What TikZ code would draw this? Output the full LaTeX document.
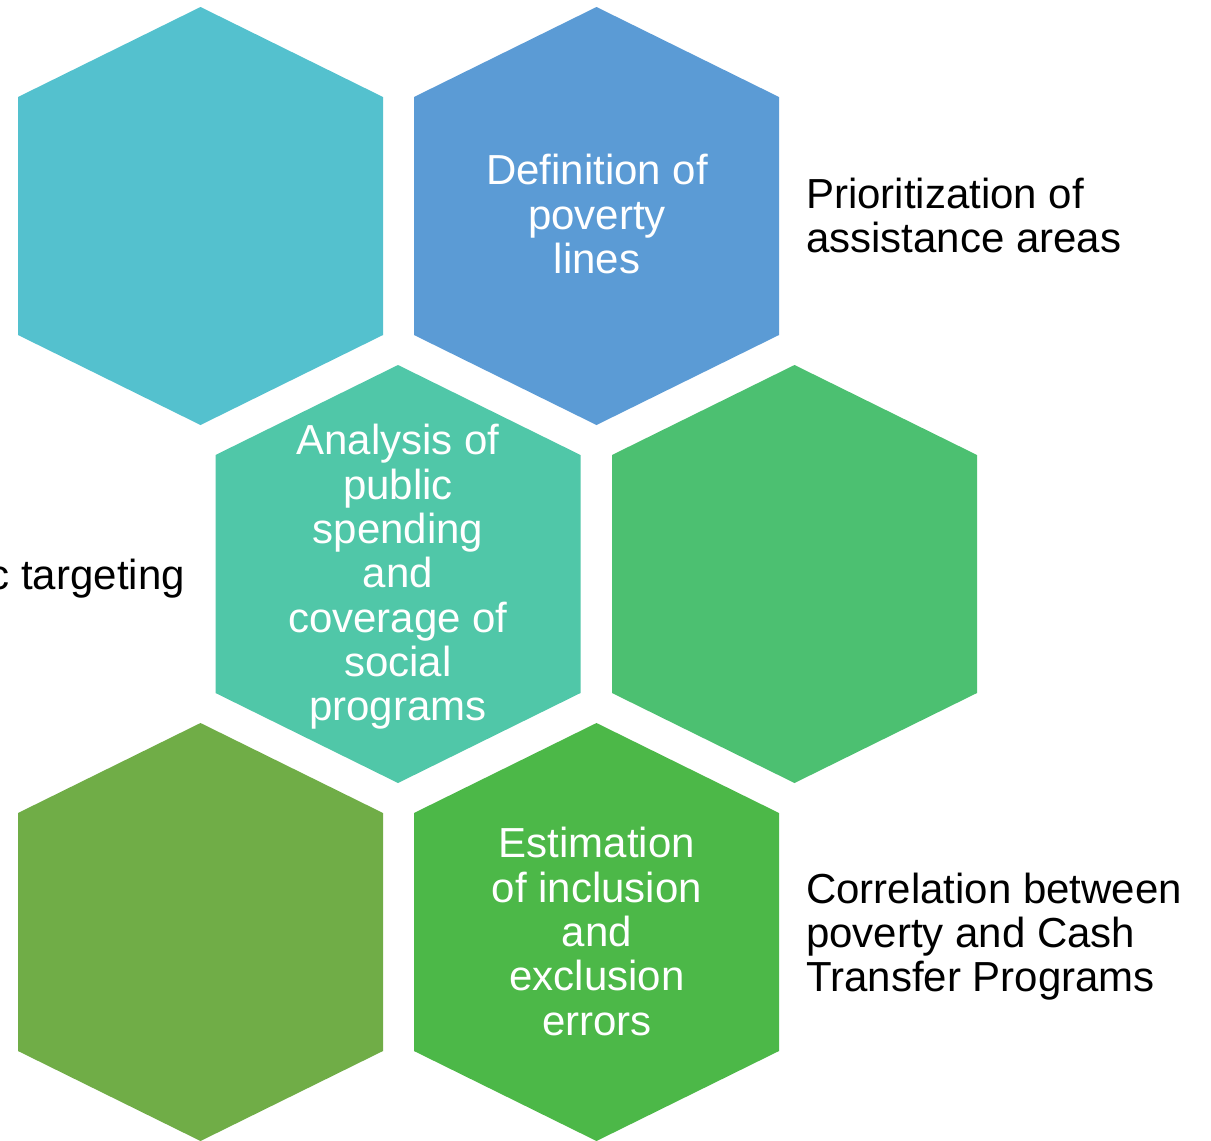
\documentclass[tikz,border=0pt]{standalone}
\usepackage{fontspec}
\setmainfont{Liberation Sans}
\definecolor{hcyan}{HTML}{54C1CE}
\definecolor{hblue}{HTML}{5B9BD5}
\definecolor{hteal}{HTML}{50C7A8}
\definecolor{hgreen}{HTML}{4CC071}
\definecolor{holive}{HTML}{70AD47}
\definecolor{hlime}{HTML}{4CB848}
\tikzset{
  hextext/.style={text=white, align=center, inner sep=0pt, font=\fontsize{42}{44.3}\selectfont},
  sidetext/.style={text=black, align=left, inner sep=0pt, font=\fontsize{42}{44}\selectfont},
  pics/hexa/.style={code={
    \fill[#1] (0,-209) -- (182.5,-119) -- (182.5,119) -- (0,209) -- (-182.5,119) -- (-182.5,-119) -- cycle;
  }}
}
\begin{document}
\begin{tikzpicture}[x=1pt,y=-1pt]
\useasboundingbox (0,0) rectangle (1211,1141);
\fill[white] (0,0) rectangle (1211,1141);
\pic at (200.5,216) {hexa=hcyan};
\pic at (596.5,216) {hexa=hblue};
\pic at (398,574) {hexa=hteal};
\pic at (794.5,574) {hexa=hgreen};
\pic at (200.5,932) {hexa=holive};
\pic at (596.5,932) {hexa=hlime};
\node[hextext] (t1) at (597,214) {Definition of\\poverty\\lines};
\node[hextext] (t2) at (398,577) {Analysis of\\public\\spending\\and\\coverage of\\social\\programs};
\node[hextext] (t3) at (597,931.5) {Estimation\\of inclusion\\and\\exclusion\\errors};
\node[sidetext, anchor=west] (s1) at (806,215) {Prioritization of\\assistance areas};
\node[sidetext, anchor=west] (s2) at (806,937) {Correlation between\\poverty and Cash\\Transfer Programs};
\node[sidetext, anchor=east] (s3) at (185,579) {c targeting};
\end{tikzpicture}
\end{document}
